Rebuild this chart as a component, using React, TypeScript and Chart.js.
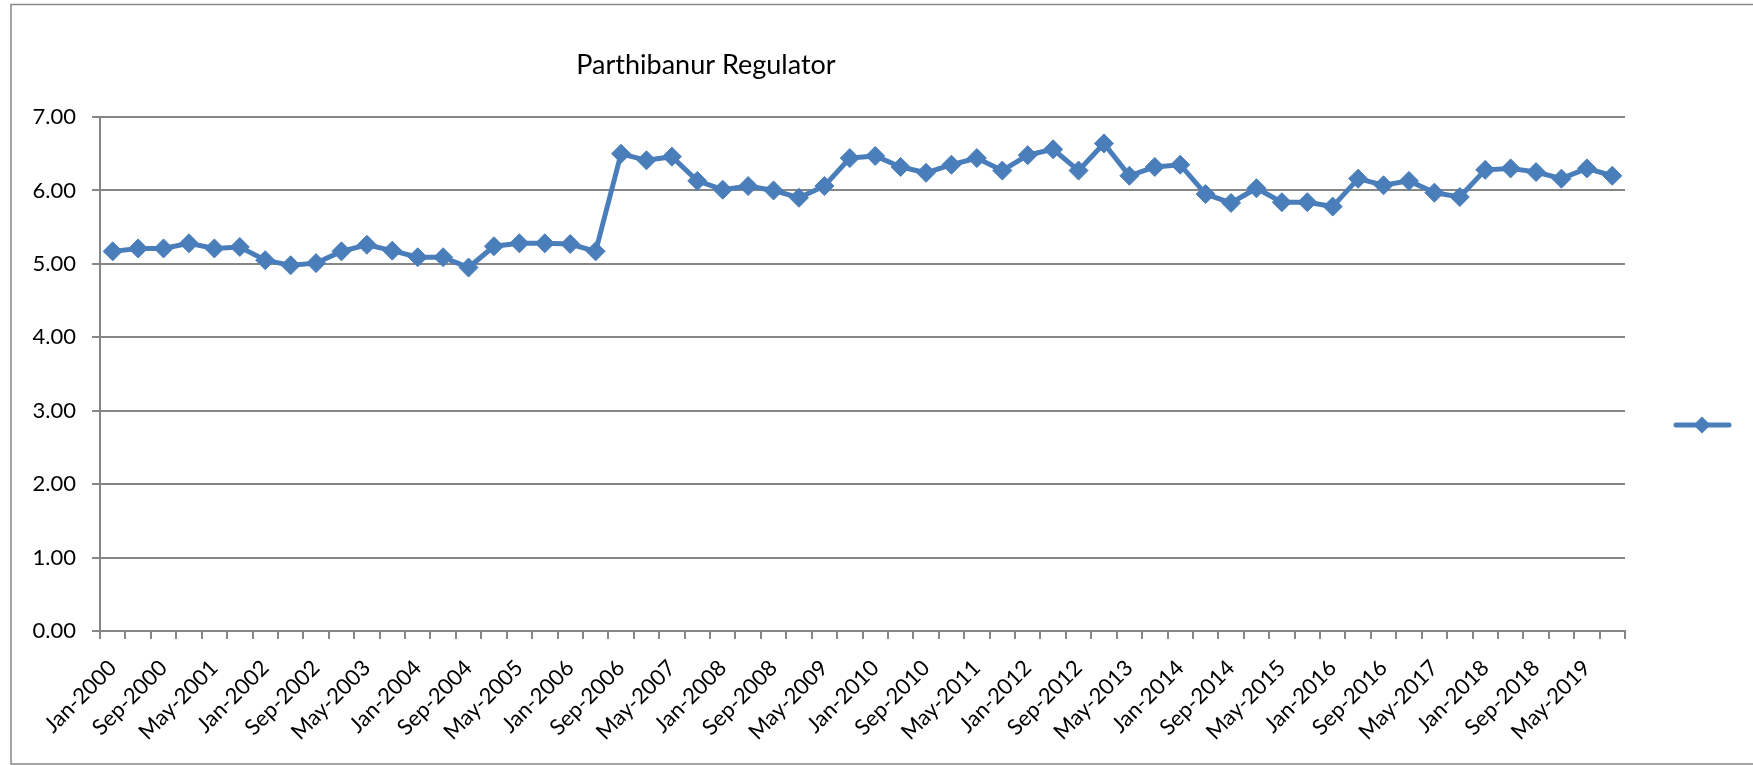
import React, { useEffect, useRef } from "react";
import { Chart, registerables } from "chart.js";

Chart.register(...registerables);

const categories: string[] = [
  "Jan-2000", "May-2000", "Sep-2000", "Jan-2001", "May-2001", "Sep-2001",
  "Jan-2002", "May-2002", "Sep-2002", "Jan-2003", "May-2003", "Sep-2003",
  "Jan-2004", "May-2004", "Sep-2004", "Jan-2005", "May-2005", "Sep-2005",
  "Jan-2006", "May-2006", "Sep-2006", "Jan-2007", "May-2007", "Sep-2007",
  "Jan-2008", "May-2008", "Sep-2008", "Jan-2009", "May-2009", "Sep-2009",
  "Jan-2010", "May-2010", "Sep-2010", "Jan-2011", "May-2011", "Sep-2011",
  "Jan-2012", "May-2012", "Sep-2012", "Jan-2013", "May-2013", "Sep-2013",
  "Jan-2014", "May-2014", "Sep-2014", "Jan-2015", "May-2015", "Sep-2015",
  "Jan-2016", "May-2016", "Sep-2016", "Jan-2017", "May-2017", "Sep-2017",
  "Jan-2018", "May-2018", "Sep-2018", "Jan-2019", "May-2019", "Sep-2019",
];

const levels: number[] = [
  5.17, 5.21, 5.21, 5.28, 5.21, 5.23,
  5.05, 4.98, 5.01, 5.17, 5.26, 5.18,
  5.09, 5.09, 4.95, 5.24, 5.28, 5.28,
  5.27, 5.17, 6.5, 6.41, 6.46, 6.13,
  6.01, 6.06, 6.0, 5.9, 6.06, 6.44,
  6.47, 6.32, 6.24, 6.35, 6.44, 6.27,
  6.48, 6.56, 6.27, 6.64, 6.2, 6.32,
  6.35, 5.95, 5.83, 6.03, 5.84, 5.84,
  5.78, 6.16, 6.07, 6.13, 5.97, 5.91,
  6.28, 6.3, 6.25, 6.16, 6.3, 6.2,
];

const yTicks: number[] = [0, 1, 2, 3, 4, 5, 6, 7];
const chartTitle = "Parthibanur Regulator";

const FONT = "Lato, 'Open Sans', sans-serif";
const BLUE = "#4A7EBB";
const GRAY = "#868686";

const decorPlugin = {
  id: "decor",
  beforeDraw(chart: any) {
    const ctx = chart.ctx;
    ctx.save();
    ctx.fillStyle = "#ffffff";
    ctx.fillRect(0, 0, chart.width, chart.height);
    ctx.strokeStyle = GRAY;
    ctx.lineWidth = 1.5;
    ctx.strokeRect(11, 4.5, 1760, 759.5);
    ctx.restore();
  },
  afterDraw(chart: any) {
    const ctx = chart.ctx;
    ctx.save();
    ctx.fillStyle = "#000000";
    ctx.font = `27px ${FONT}`;
    ctx.textAlign = "center";
    ctx.textBaseline = "alphabetic";
    ctx.fillText(chartTitle, 706, 74);
    // legend symbol
    const ly = 425;
    ctx.strokeStyle = BLUE;
    ctx.lineWidth = 5;
    ctx.lineCap = "round";
    ctx.beginPath();
    ctx.moveTo(1676, ly);
    ctx.lineTo(1729, ly);
    ctx.stroke();
    ctx.fillStyle = BLUE;
    ctx.beginPath();
    const cx = 1702;
    const r = 8.5;
    ctx.moveTo(cx, ly - r);
    ctx.lineTo(cx + r, ly);
    ctx.lineTo(cx, ly + r);
    ctx.lineTo(cx - r, ly);
    ctx.closePath();
    ctx.fill();
    ctx.restore();
  },
};

export default function App() {
  const ref = useRef<HTMLCanvasElement>(null);
  useEffect(() => {
    if (!ref.current) return;
    const chart = new Chart(ref.current, {
      type: "line",
      data: {
        labels: categories,
        datasets: [
          {
            label: "",
            data: levels,
            borderColor: BLUE,
            backgroundColor: BLUE,
            borderWidth: 5,
            pointStyle: "rectRot",
            pointRadius: 9.5,
            pointBorderWidth: 1,
            pointBackgroundColor: BLUE,
            pointBorderColor: BLUE,
            tension: 0,
          },
        ],
      },
      options: {
        animation: false,
        responsive: false,
        layout: { padding: { left: 0, top: 117, right: 1753 - 1625, bottom: 0 } },
        plugins: {
          legend: { display: false },
          title: { display: false },
          tooltip: { enabled: false },
        },
        scales: {
          x: {
            type: "category",
            offset: true,
            grid: {
              offset: true,
              drawOnChartArea: false,
              color: GRAY,
              lineWidth: 2,
              tickLength: 8,
            },
            border: { color: GRAY, width: 2 },
            ticks: {
              autoSkip: false,
              maxRotation: 45,
              minRotation: 45,
              color: "#000000",
              font: { family: FONT, size: 22 },
              padding: 16,
              callback: (_v: any, i: number) => (i % 2 === 0 ? categories[i] : ""),
            },
            afterFit: (scale: any) => {
              scale.height = 765 - 631;
            },
          },
          y: {
            min: 0,
            max: 7,
            afterBuildTicks: (scale: any) => {
              scale.ticks = yTicks.map((v) => ({ value: v }));
            },
            grid: { color: GRAY, lineWidth: 2, tickLength: 8 },
            border: { color: GRAY, width: 2 },
            ticks: {
              color: "#000000",
              font: { family: FONT, size: 22 },
              padding: 16,
              callback: (v: any) => Number(v).toFixed(2),
            },
            afterFit: (scale: any) => {
              scale.width = 100;
            },
          },
        },
      },
      plugins: [decorPlugin],
    });
    return () => chart.destroy();
  }, []);
  return (
    <div style={{ position: "absolute", left: 0, top: 0, width: 1753, height: 765 }}>
      <canvas ref={ref} width={1753} height={765} style={{ display: "block" }} />
    </div>
  );
}
